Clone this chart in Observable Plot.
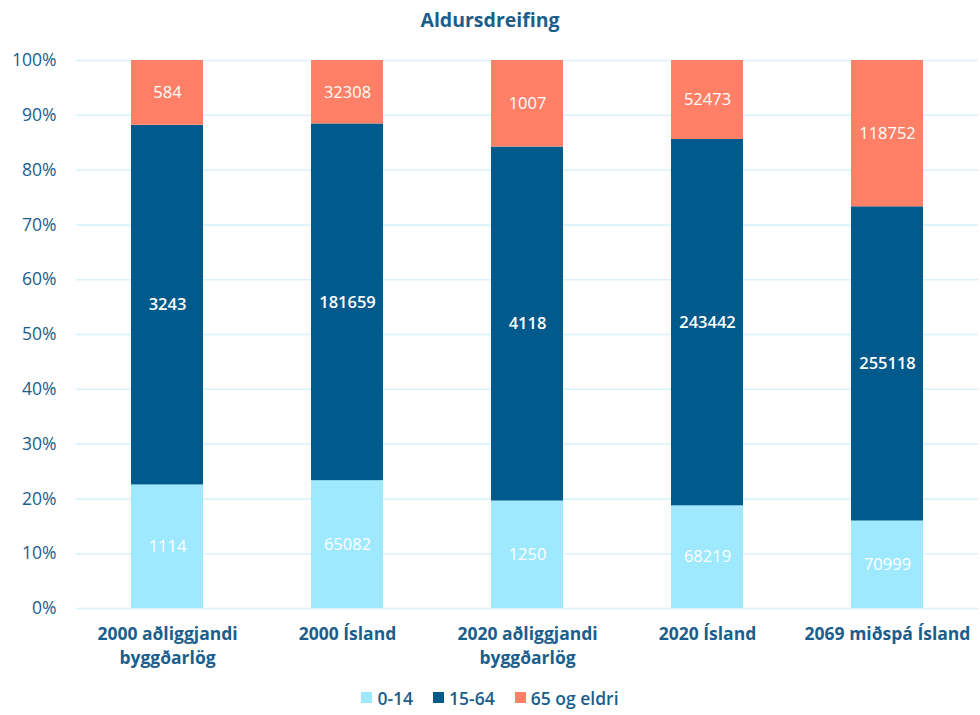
<!DOCTYPE html>
<html>
<head>
<meta charset="utf-8">
<script src="https://cdn.jsdelivr.net/npm/d3@7"></script>
<script src="https://cdn.jsdelivr.net/npm/@observablehq/plot@0.6"></script>
<style>
  body { margin: 0; background: #fff; font-family: "Open Sans", sans-serif; }
  #title { height: 40px; line-height: 40px; text-align: center; font-weight: bold; font-size: 19.5px; color: #1b5e8c; }
  #legend { height: 35px; display: flex; justify-content: center; align-items: center; gap: 20px; font-size: 17.5px; font-weight: 600; color: #1b5e8c; }
  #legend span.sw { display: inline-block; width: 11px; height: 11px; margin-right: 5px; }
  #legend div { display: flex; align-items: center; }
</style>
</head>
<body>
<div id="title">Aldursdreifing</div>
<div id="chart"></div>
<div id="legend"></div>
<script>
const categories = ["2000 aðliggjandi\nbyggðarlög", "2000 Ísland", "2020 aðliggjandi\nbyggðarlög", "2020 Ísland", "2069 miðspá Ísland"];
const groups = ["0-14", "15-64", "65 og eldri"];
const colors = ["#9fe9ff", "#005a8b", "#ff8066"];
const age0_14 = [1114, 65082, 1250, 68219, 70999];
const age15_64 = [3243, 181659, 4118, 243442, 255118];
const age65 = [584, 32308, 1007, 52473, 118752];
const yTicks = [0, 0.1, 0.2, 0.3, 0.4, 0.5, 0.6, 0.7, 0.8, 0.9, 1];

const series = [age0_14, age15_64, age65];
const data = [];
groups.forEach((g, gi) => categories.forEach((c, ci) => data.push({cat: c, group: g, value: series[gi][ci]})));

const textColor = "#1b5e8c";
const stackOpts = {offset: "normalize", x: "cat", y: "value", z: "group", order: groups};

const chart = Plot.plot({
  width: 980,
  height: 640,
  marginTop: 20,
  marginBottom: 72,
  marginLeft: 76,
  marginRight: 2,
  style: {fontFamily: "'Open Sans', sans-serif", fontSize: "16px", color: textColor},
  x: {domain: categories, paddingInner: 0.6, paddingOuter: 0.3, label: null},
  y: {domain: [0, 1], label: null},
  color: {domain: groups, range: colors},
  marks: [
    Plot.gridY(yTicks, {stroke: "#d9f1fa", strokeOpacity: 1, strokeWidth: 1.5}),
    Plot.barY(data, Plot.stackY({...stackOpts, fill: "group"})),
    Plot.text(data, Plot.stackY({...stackOpts, text: d => d.group !== "15-64" ? String(d.value) : null, fill: "white", fontSize: 16.5})),
    Plot.text(data, Plot.stackY({...stackOpts, text: d => d.group === "15-64" ? String(d.value) : null, fill: "white", fontSize: 16.5, fontWeight: 600})),
    Plot.axisY({ticks: yTicks, tickFormat: d => Math.round(d * 100) + "%", tickSize: 0, tickPadding: 20, fill: textColor, fontSize: 17.5, label: null}),
    Plot.axisX({tickSize: 0, tickPadding: 15, fill: textColor, fontWeight: "bold", fontSize: 17.5, lineHeight: 1.35, label: null})
  ]
});
document.getElementById("chart").appendChild(chart);

const legend = document.getElementById("legend");
groups.forEach((g, i) => {
  const item = document.createElement("div");
  const sw = document.createElement("span");
  sw.className = "sw";
  sw.style.background = colors[i];
  item.appendChild(sw);
  item.appendChild(document.createTextNode(g));
  legend.appendChild(item);
});
</script>
</body>
</html>
